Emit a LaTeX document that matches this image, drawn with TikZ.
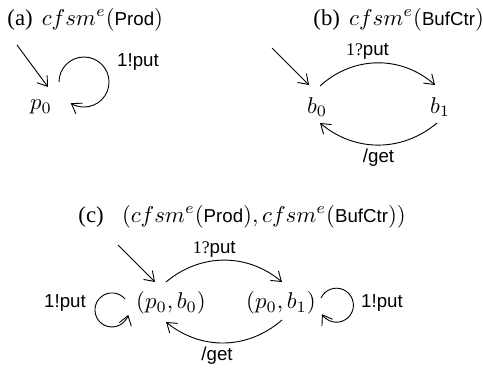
\documentclass[tikz,border=0pt]{standalone}
\usepackage[no-math]{fontspec}
\setmainfont{Liberation Serif}
\setsansfont[Scale=0.82]{Liberation Sans}
\usetikzlibrary{arrows.meta}
\newcommand{\smq}{{\fontsize{7.8}{9}\rmfamily 1?}}
\begin{document}
\begin{tikzpicture}[x=0.4386pt,y=-0.4386pt,
  >={Straight Barb[length=4pt,width=5.5pt]},
  st/.style={inner sep=0pt},
  ttl/.style={anchor=base west, inner sep=0pt},
  lab/.style={inner sep=1.5pt, font=\sffamily}]
\useasboundingbox (0,0) rectangle (483,369);
% (a)
\node[ttl] (ta) at (7,25) {(a)\hspace{4pt}$cfsm^e(\textsf{Prod})$};
\node[st] (p0) at (41,107) {$p_0$};
\coordinate (ia) at (17,45);
\draw[->] (ia) -- ([shift={(7,-20)}]p0.center);
\draw[->] ([shift={(18,-25)}]p0.center) arc[start angle=180, end angle=-122, radius=10.97pt];
\node[lab] (la) at (138,62) {1!put};
% (b)
\node[ttl] (tb) at (313,25) {(b)\hspace{4pt}$cfsm^e(\textsf{BufCtr})$};
\node[st] (b0) at (317,107) {$b_0$};
\node[st] (b1) at (440,107) {$b_1$};
\coordinate (ib) at (272,48);
\draw[->] (ib) -- ([shift={(-8,-22)}]b0.center);
\draw[->] ([shift={(3,-21)}]b0.center) to[bend left=42] node[pos=0.42,above,lab] (lb1) {\smq put} ([shift={(-5,-22)}]b1.center);
\draw[->] ([shift={(-3,16)}]b1.center) to[bend left=40] node[below,lab] (lb2) {/get} ([shift={(3,16)}]b0.center);
% (c)
\node[ttl] (tc) at (78,222) {(c)\hspace{8pt}$(cfsm^e(\textsf{Prod}), cfsm^e(\textsf{BufCtr}))$};
\node[st] (s0) at (171,303) {$(p_0,b_0)$};
\node[st] (s1) at (281,303) {$(p_0,b_1)$};
\coordinate (ic) at (118,245);
\draw[->] (ic) -- ([shift={(-16,-21)}]s0.center);
\draw[->] ([shift={(-5,-21)}]s0.center) to[bend left=40] node[pos=0.42,above,lab] (lc2) {\smq put} ([shift={(1,-21)}]s1.center);
\draw[->] ([shift={(1,17)}]s1.center) to[bend left=40] node[pos=0.56,below,lab] (lc3) {/get} ([shift={(-5,19)}]s0.center);
\draw[->] ([shift={(-46,-4)}]s0.center) arc[start angle=40, end angle=343, radius=7.46pt];
\node[lab] (lc0) at (65,303) {1!put};
\draw[->] ([shift={(40,-5)}]s1.center) arc[start angle=155, end angle=-148, radius=7.46pt];
\node[lab] (lc1) at (382,303) {1!put};
\end{tikzpicture}
\end{document}
